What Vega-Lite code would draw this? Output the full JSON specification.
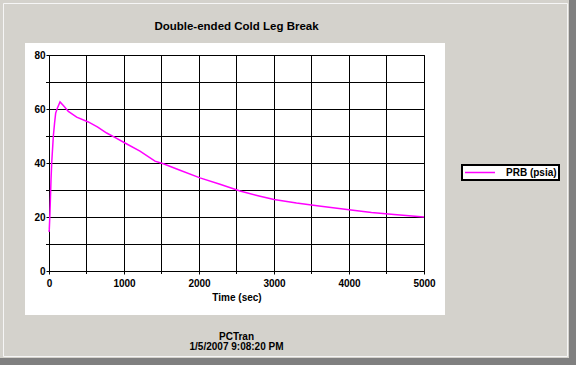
{
  "$schema": "https://vega.github.io/schema/vega-lite/v6.json",
  "width": 375,
  "height": 216,
  "autosize": {"type": "none"},
  "padding": {"left": 49, "top": 55, "right": 152, "bottom": 94},
  "background": "white",
  "config": {"view": {"stroke": "black", "strokeWidth": 1}, "font": "Liberation Sans"},
  "datasets": {
    "gridx": [{"v": 500}, {"v": 1500}, {"v": 2500}, {"v": 3500}, {"v": 4500}],
    "gridy": [{"v": 10}, {"v": 30}, {"v": 50}, {"v": 70}]
  },
  "data": {"values": [
    {"t": 0, "p": 14.5}, {"t": 4, "p": 15.5}, {"t": 13, "p": 21.6}, {"t": 27, "p": 33.9},
    {"t": 36, "p": 40.0}, {"t": 58, "p": 50.0}, {"t": 75, "p": 55.0}, {"t": 89, "p": 58.5},
    {"t": 111, "p": 60.3}, {"t": 147, "p": 62.6}, {"t": 200, "p": 61.0}, {"t": 258, "p": 59.1},
    {"t": 369, "p": 57.0}, {"t": 524, "p": 55.2}, {"t": 650, "p": 53.3}, {"t": 769, "p": 51.1},
    {"t": 890, "p": 49.3}, {"t": 1013, "p": 47.4}, {"t": 1213, "p": 44.4}, {"t": 1413, "p": 40.7},
    {"t": 1524, "p": 39.7}, {"t": 1747, "p": 37.3}, {"t": 2013, "p": 34.5}, {"t": 2280, "p": 32.1},
    {"t": 2547, "p": 29.6}, {"t": 2800, "p": 27.8}, {"t": 3000, "p": 26.5}, {"t": 3300, "p": 25.2},
    {"t": 3600, "p": 24.1}, {"t": 4000, "p": 22.7}, {"t": 4300, "p": 21.7}, {"t": 4600, "p": 20.9},
    {"t": 5000, "p": 20.0}
  ]},
  "layer": [
    {
      "data": {"name": "gridx"},
      "mark": {"type": "rule", "stroke": "black", "strokeWidth": 1, "clip": false},
      "encoding": {
        "x": {"field": "v", "type": "quantitative"},
        "y": {"datum": -1.111, "type": "quantitative"},
        "y2": {"datum": 80}
      }
    },
    {
      "data": {"name": "gridy"},
      "mark": {"type": "rule", "stroke": "black", "strokeWidth": 1, "yOffset": 0.5, "clip": false},
      "encoding": {
        "y": {"field": "v", "type": "quantitative"},
        "x": {"datum": -40, "type": "quantitative"},
        "x2": {"datum": 5000}
      }
    },
    {
      "mark": {"type": "line", "strokeWidth": 1.5, "clip": false},
      "encoding": {
        "x": {
          "field": "t", "type": "quantitative",
          "scale": {"domain": [0, 5000], "nice": false},
          "axis": {
            "values": [0, 1000, 2000, 3000, 4000, 5000],
            "format": "d",
            "title": "Time (sec)",
            "titleFont": "Liberation Sans", "titleFontSize": 10, "titleFontWeight": "bold", "titleColor": "black",
            "titlePadding": 4,
            "labelFont": "Liberation Sans", "labelFontSize": 10, "labelFontWeight": "bold", "labelColor": "black",
            "labelPadding": 4, "labelFlush": false, "labelOverlap": false,
            "tickSize": 3, "tickColor": "black", "domainColor": "black",
            "grid": true, "gridColor": "black", "gridOpacity": 1, "gridWidth": 1
          }
        },
        "y": {
          "field": "p", "type": "quantitative",
          "scale": {"domain": [0, 80], "nice": false},
          "axis": {
            "values": [0, 20, 40, 60, 80],
            "title": null,
            "labelFont": "Liberation Sans", "labelFontSize": 10, "labelFontWeight": "bold", "labelColor": "black",
            "labelPadding": 1, "labelFlush": false, "labelOverlap": false,
            "tickSize": 3, "tickColor": "black", "domainColor": "black",
            "grid": true, "gridColor": "black", "gridOpacity": 1, "gridWidth": 1
          }
        },
        "color": {
          "datum": "PRB (psia)",
          "type": "nominal",
          "scale": {"range": ["#ff00ff"]},
          "legend": {
            "orient": "none", "legendX": 413, "legendY": 110,
            "title": null,
            "symbolType": "stroke", "symbolSize": 900, "symbolStrokeWidth": 1.5,
            "clipHeight": 11,
            "labelFont": "Liberation Sans", "labelFontSize": 10, "labelFontWeight": "bold", "labelColor": "black",
            "labelOffset": 10,
            "strokeColor": "black", "fillColor": "white", "padding": 2,
            "encode": {"legend": {"update": {"strokeWidth": {"value": 2}}}}
          }
        }
      }
    },
    {
      "data": {"values": [{}]},
      "mark": {"type": "rect", "fill": "#d4d2cc", "clip": false},
      "encoding": {
        "x": {"datum": -3000, "type": "quantitative"},
        "x2": {"datum": 9000},
        "y": {"datum": 84.444, "type": "quantitative"},
        "y2": {"datum": 200}
      }
    },
    {
      "data": {"values": [{}]},
      "mark": {"type": "rect", "fill": "#d4d2cc", "clip": false},
      "encoding": {
        "x": {"datum": -3000, "type": "quantitative"},
        "x2": {"datum": 9000},
        "y": {"datum": -16.296, "type": "quantitative"},
        "y2": {"datum": -200}
      }
    },
    {
      "data": {"values": [{}]},
      "mark": {"type": "rect", "fill": "#d4d2cc", "clip": false},
      "encoding": {
        "x": {"datum": -3000, "type": "quantitative"},
        "x2": {"datum": -320},
        "y": {"datum": -20, "type": "quantitative"},
        "y2": {"datum": 90}
      }
    },
    {
      "data": {"values": [{}]},
      "mark": {"type": "rect", "fill": "#d4d2cc", "clip": false},
      "encoding": {
        "x": {"datum": 5280, "type": "quantitative"},
        "x2": {"datum": 9000},
        "y": {"datum": -20, "type": "quantitative"},
        "y2": {"datum": 90}
      }
    },
    {
      "data": {"values": [{}]},
      "mark": {"type": "rect", "fill": "#808080", "clip": false},
      "encoding": {
        "x": {"datum": 6933.33, "type": "quantitative"},
        "x2": {"datum": 9000},
        "y": {"datum": -200, "type": "quantitative"},
        "y2": {"datum": 200}
      }
    },
    {
      "data": {"values": [{}]},
      "mark": {"type": "rect", "fill": "#808080", "clip": false},
      "encoding": {
        "x": {"datum": -3000, "type": "quantitative"},
        "x2": {"datum": 9000},
        "y": {"datum": -32.222, "type": "quantitative"},
        "y2": {"datum": -200}
      }
    },
    {
      "data": {"values": [{}]},
      "mark": {"type": "rect", "filled": false, "stroke": "#f6f6f6", "strokeWidth": 1, "clip": false},
      "encoding": {
        "x": {"datum": -606.67, "type": "quantitative"},
        "x2": {"datum": 6913.33},
        "y": {"datum": 99.074, "type": "quantitative"},
        "y2": {"datum": -31.667}
      }
    },
    {
      "data": {"values": [{}]},
      "mark": {"type": "text", "text": "Double-ended Cold Leg Break", "font": "Liberation Sans", "fontSize": 11.5, "fontWeight": "bold", "color": "black", "align": "center", "baseline": "alphabetic", "clip": false},
      "encoding": {
        "x": {"datum": 2500, "type": "quantitative"},
        "y": {"datum": 89.259, "type": "quantitative"}
      }
    },
    {
      "data": {"values": [{}]},
      "mark": {"type": "text", "text": ["PCTran", "1/5/2007 9:08:20 PM"], "lineHeight": 10, "font": "Liberation Sans", "fontSize": 10, "fontWeight": "bold", "color": "black", "align": "center", "baseline": "alphabetic", "clip": false},
      "encoding": {
        "x": {"datum": 2500, "type": "quantitative"},
        "y": {"datum": -25.556, "type": "quantitative"}
      }
    }
  ]
}
